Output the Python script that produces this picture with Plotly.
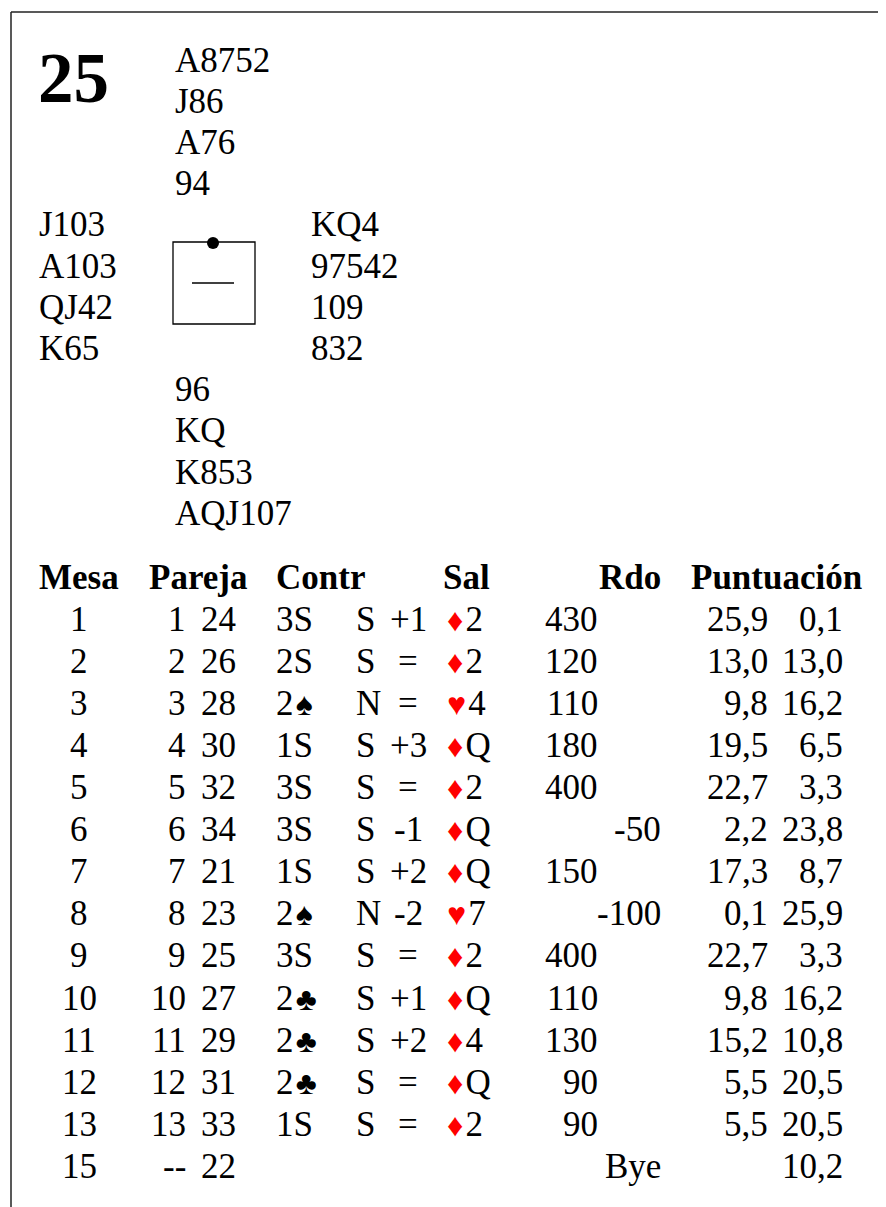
import plotly.graph_objects as go

# ---------------- data ----------------
board = "25"
north = ["A8752", "J86", "A76", "94"]
west = ["J103", "A103", "QJ42", "K65"]
east = ["KQ4", "97542", "109", "832"]
south = ["96", "KQ", "K853", "AQJ107"]

headers = ["Mesa", "Pareja", "Contr", "Sal", "Rdo", "Puntuación"]
mesa = ["1", "2", "3", "4", "5", "6", "7", "8", "9", "10", "11", "12", "13", "15"]
pareja_ns = ["1", "2", "3", "4", "5", "6", "7", "8", "9", "10", "11", "12", "13", "--"]
pareja_ew = ["24", "26", "28", "30", "32", "34", "21", "23", "25", "27", "29", "31", "33", "22"]
contr_level = ["3", "2", "2", "1", "3", "3", "1", "2", "3", "2", "2", "2", "1", ""]
contr_strain = ["S", "S", "♠", "S", "S", "S", "S", "♠", "S", "♣", "♣", "♣", "S", ""]
declarer = ["S", "S", "N", "S", "S", "S", "S", "N", "S", "S", "S", "S", "S", ""]
result = ["+1", "=", "=", "+3", "=", "-1", "+2", "-2", "=", "+1", "+2", "=", "=", ""]
lead_suit = ["♦", "♦", "♥", "♦", "♦", "♦", "♦", "♥", "♦", "♦", "♦", "♦", "♦", ""]
lead_card = ["2", "2", "4", "Q", "2", "Q", "Q", "7", "2", "Q", "4", "Q", "2", ""]
rdo_ns = [430, 120, 110, 180, 400, None, 150, None, 400, 110, 130, 90, 90, None]
rdo_ew = [None, None, None, None, None, -50, None, -100, None, None, None, None, None, "Bye"]
pts_ns = [25.9, 13.0, 9.8, 19.5, 22.7, 2.2, 17.3, 0.1, 22.7, 9.8, 15.2, 5.5, 5.5, None]
pts_ew = [0.1, 13.0, 16.2, 6.5, 3.3, 23.8, 8.7, 25.9, 3.3, 16.2, 10.8, 20.5, 20.5, 10.2]

# ---------------- style / layout ----------------
W, H = 886, 1207
OFF = 8  # page body margin, so axis coords equal screen pixels
FONT = "Liberation Serif, Times New Roman, serif"
FS = 35
SUIT_FS = 32
RED = "#ff0000"

hand_x_north = 173
hand_x_west = 37
hand_x_east = 309
hand_y0 = 60
hand_dy = 41.2

table_y0 = 577
table_dy = 42.1

annotations = []


def txt(x, y, s, anchor="left", size=FS, bold=False, color="black"):
    annotations.append(dict(
        x=x, y=y, xref="x", yref="y", text=("<b>%s</b>" % s) if bold else s,
        showarrow=False, xanchor=anchor, yanchor="middle",
        font=dict(family=FONT, size=size, color=color),
    ))


GAP = "<span style='font-size:9px'> </span>"


def suit_html(sym):
    col = RED if sym in ("♦", "♥") else "black"
    return "<span style='font-size:%dpx;color:%s'>%s</span>" % (SUIT_FS, col, sym)


def fmt(v):
    return ("%.1f" % v).replace(".", ",")


# board number
txt(36, 78, board, size=71, bold=True)

# hands
for i, s in enumerate(north):
    txt(hand_x_north, hand_y0 + i * hand_dy, s)
for i, s in enumerate(west):
    txt(hand_x_west, hand_y0 + (4 + i) * hand_dy, s)
for i, s in enumerate(east):
    txt(hand_x_east, hand_y0 + (4 + i) * hand_dy, s)
for i, s in enumerate(south):
    txt(hand_x_north, hand_y0 + (8 + i) * hand_dy, s)

# headers
txt(37, table_y0, headers[0], bold=True)
txt(147, table_y0, headers[1], bold=True)
txt(274, table_y0, headers[2], bold=True)
txt(441, table_y0, headers[3], bold=True)
txt(663, table_y0, headers[4], anchor="right", bold=True)
txt(864, table_y0, headers[5], anchor="right", bold=True)

# rows
for r in range(len(mesa)):
    y = table_y0 + (r + 1) * table_dy
    txt(79, y, mesa[r], anchor="center")
    txt(188, y, pareja_ns[r], anchor="right")
    txt(238, y, pareja_ew[r], anchor="right")
    if contr_level[r]:
        strain = contr_strain[r]
        strain_s = strain if strain == "S" else GAP + suit_html(strain)
        txt(274, y, contr_level[r] + strain_s)
    if declarer[r]:
        txt(354, y, declarer[r])
    if result[r]:
        txt(408, y, result[r], anchor="center")
    if lead_suit[r]:
        txt(445, y, suit_html(lead_suit[r]) + GAP + lead_card[r])
    if rdo_ns[r] is not None:
        txt(600, y, str(rdo_ns[r]), anchor="right")
    if rdo_ew[r] is not None:
        txt(663, y, str(rdo_ew[r]), anchor="right")
    if pts_ns[r] is not None:
        txt(770, y, fmt(pts_ns[r]), anchor="right")
    if pts_ew[r] is not None:
        txt(845, y, fmt(pts_ew[r]), anchor="right")

shapes = [
    # frame
    dict(type="line", xref="x", yref="y", x0=11, y0=12, x1=W + OFF, y1=12,
         line=dict(color="#222", width=1.5)),
    dict(type="line", xref="x", yref="y", x0=11, y0=12, x1=11, y1=H + OFF,
         line=dict(color="#222", width=1.5)),
    # compass box
    dict(type="rect", xref="x", yref="y", x0=173, y0=242, x1=255, y1=324,
         line=dict(color="black", width=1.3), fillcolor="rgba(0,0,0,0)"),
    dict(type="line", xref="x", yref="y", x0=192, y0=283, x1=234, y1=283,
         line=dict(color="black", width=1.3)),
    # dealer dot (North)
    dict(type="circle", xref="x", yref="y", x0=207, y0=237, x1=219, y1=249,
         line=dict(color="black", width=0), fillcolor="black"),
]

fig = go.Figure()
fig.update_layout(
    width=W, height=H, autosize=False,
    margin=dict(l=0, r=0, t=0, b=0),
    paper_bgcolor="white", plot_bgcolor="white",
    xaxis=dict(range=[OFF, W + OFF], visible=False, fixedrange=True),
    yaxis=dict(range=[H + OFF, OFF], visible=False, fixedrange=True),
    annotations=annotations, shapes=shapes, showlegend=False,
)
fig.write_html("out.html")
